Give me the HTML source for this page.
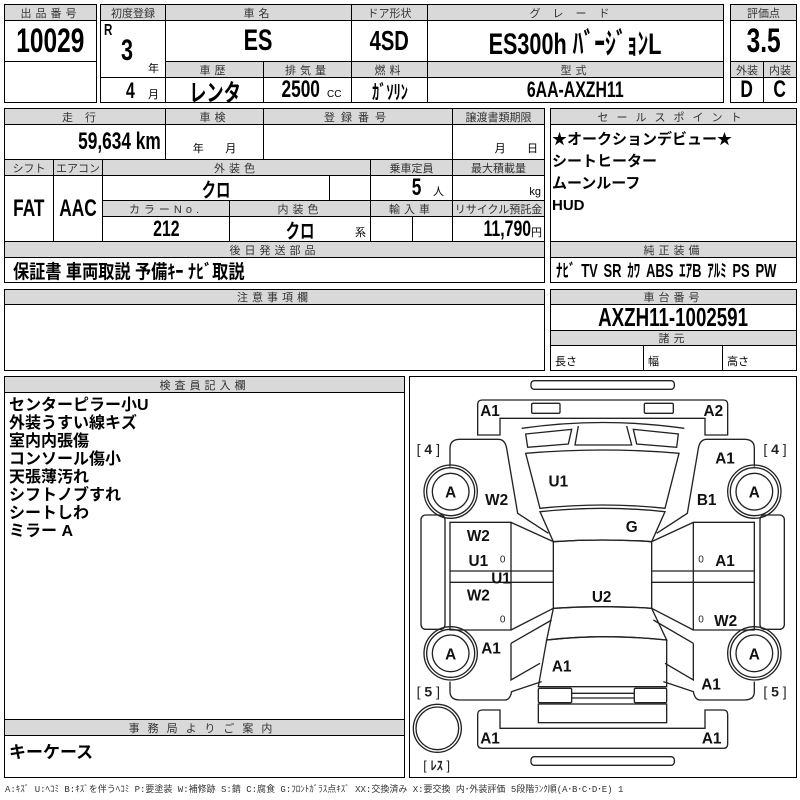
<!DOCTYPE html>
<html><head><meta charset="utf-8">
<style>
body{margin:0;width:800px;height:800px;background:#fff;position:relative;overflow:hidden;font-family:"Liberation Sans","Noto Sans CJK JP",sans-serif;color:#000}
.c{position:absolute;box-sizing:border-box;border:1px solid #000;display:flex;align-items:center;justify-content:center;white-space:nowrap}
.h{background:#d9d9d9;font-size:11px;color:#333;letter-spacing:4px}
.n{display:inline-block;font-weight:bold;transform:scaleX(.72);white-space:nowrap}
.r{transform-origin:right center}
.l{transform-origin:left center}
.a{position:absolute;white-space:nowrap}
</style></head><body>
<div class="c h" style="left:4px;top:4px;width:93px;height:17px">出品番号</div>
<div class="c" style="left:4px;top:20px;width:93px;height:42px"><span class="n" style="font-size:34px">10029</span></div>
<div class="c" style="left:4px;top:61px;width:93px;height:42px"></div>
<div class="c h" style="left:100px;top:4px;width:66px;height:17px;letter-spacing:0">初度登録</div>
<div class="c h" style="left:165px;top:4px;width:187px;height:17px">車名</div>
<div class="c h" style="left:351px;top:4px;width:77px;height:17px;letter-spacing:0">ドア形状</div>
<div class="c h" style="left:427px;top:4px;width:297px;height:17px;letter-spacing:12px">グレード</div>
<div class="c" style="left:100px;top:20px;width:66px;height:58px"></div>
<div class="a" style="left:104px;top:22px;font-size:16px"><span class="n l">R</span></div>
<div class="a" style="left:121px;top:34px;font-size:30px"><span class="n l">3</span></div>
<div class="a" style="left:148px;top:60px;font-size:11px">年</div>
<div class="c" style="left:100px;top:77px;width:66px;height:26px"></div>
<div class="a" style="left:126px;top:78px;font-size:22px"><span class="n l">4</span></div>
<div class="a" style="left:148px;top:86px;font-size:11px">月</div>
<div class="c" style="left:165px;top:20px;width:187px;height:42px"><span class="n" style="font-size:30px">ES</span></div>
<div class="c" style="left:351px;top:20px;width:77px;height:42px"><span class="n" style="font-size:28px">4SD</span></div>
<div class="c" style="left:427px;top:20px;width:297px;height:42px"><span class="n" style="font-size:30px">ES300h ﾊﾞｰｼﾞｮﾝL</span></div>
<div class="c h" style="left:165px;top:61px;width:99px;height:17px">車歴</div>
<div class="c h" style="left:263px;top:61px;width:89px;height:17px">排気量</div>
<div class="c h" style="left:351px;top:61px;width:77px;height:17px">燃料</div>
<div class="c h" style="left:427px;top:61px;width:297px;height:17px">型式</div>
<div class="c" style="left:165px;top:77px;width:99px;height:26px"><span class="n" style="font-size:24px">レンタ</span></div>
<div class="c" style="left:263px;top:77px;width:89px;height:26px"><span class="n" style="font-size:24px">2500</span><span style="font-size:10px;margin:8px 0 0 0">CC</span></div>
<div class="c" style="left:351px;top:77px;width:77px;height:26px"><span class="n" style="font-size:20px">ｶﾞｿﾘﾝ</span></div>
<div class="c" style="left:427px;top:77px;width:297px;height:26px"><span class="n" style="font-size:22px">6AA-AXZH11</span></div>
<div class="c h" style="left:730px;top:4px;width:67px;height:17px;letter-spacing:0">評価点</div>
<div class="c" style="left:730px;top:20px;width:67px;height:42px"><span class="n" style="font-size:34px">3.5</span></div>
<div class="c h" style="left:730px;top:61px;width:34px;height:17px;letter-spacing:0">外装</div>
<div class="c h" style="left:763px;top:61px;width:34px;height:17px;letter-spacing:0">内装</div>
<div class="c" style="left:730px;top:77px;width:34px;height:26px"><span class="n" style="font-size:24px">D</span></div>
<div class="c" style="left:763px;top:77px;width:34px;height:26px"><span class="n" style="font-size:24px">C</span></div>
<div class="c h" style="left:4px;top:108px;width:162px;height:17px;letter-spacing:12px">走行</div>
<div class="c h" style="left:165px;top:108px;width:99px;height:17px">車検</div>
<div class="c h" style="left:263px;top:108px;width:190px;height:17px;letter-spacing:6px">登録番号</div>
<div class="c h" style="left:452px;top:108px;width:93px;height:17px;letter-spacing:0">譲渡書類期限</div>
<div class="c" style="left:4px;top:124px;width:162px;height:36px;justify-content:flex-end;padding-right:4px"><span class="n r" style="font-size:24px">59,634 km</span></div>
<div class="c" style="left:165px;top:124px;width:99px;height:36px;font-size:11px;align-items:flex-end;padding-bottom:3px">年&nbsp;&nbsp;&nbsp;&nbsp;&nbsp;&nbsp;&nbsp;月</div>
<div class="c" style="left:263px;top:124px;width:190px;height:36px"></div>
<div class="c" style="left:452px;top:124px;width:93px;height:36px;font-size:11px;align-items:flex-end;justify-content:flex-end;padding:0 6px 3px 0">月&nbsp;&nbsp;&nbsp;&nbsp;&nbsp;&nbsp;&nbsp;日</div>
<div class="c h" style="left:4px;top:159px;width:50px;height:17px;letter-spacing:0">シフト</div>
<div class="c h" style="left:53px;top:159px;width:50px;height:17px;letter-spacing:0">エアコン</div>
<div class="c h" style="left:102px;top:159px;width:269px;height:17px">外装色</div>
<div class="c h" style="left:370px;top:159px;width:83px;height:17px;letter-spacing:0">乗車定員</div>
<div class="c h" style="left:452px;top:159px;width:93px;height:17px;letter-spacing:0">最大積載量</div>
<div class="c" style="left:4px;top:175px;width:50px;height:67px"><span class="n" style="font-size:24px">FAT</span></div>
<div class="c" style="left:53px;top:175px;width:50px;height:67px"><span class="n" style="font-size:24px">AAC</span></div>
<div class="c" style="left:102px;top:175px;width:228px;height:26px"><span class="n" style="font-size:20px">クロ</span></div>
<div class="c" style="left:329px;top:175px;width:42px;height:26px"></div>
<div class="c" style="left:370px;top:175px;width:83px;height:26px;justify-content:flex-end;padding-right:8px"><span class="n r" style="font-size:24px">5</span><span style="font-size:11px;margin:6px 0 0 12px">人</span></div>
<div class="c" style="left:452px;top:175px;width:93px;height:26px;font-size:11px;justify-content:flex-end;align-items:flex-end;padding:0 3px 2px 0">kg</div>
<div class="c h" style="left:102px;top:200px;width:128px;height:17px">カラーNo.</div>
<div class="c h" style="left:229px;top:200px;width:142px;height:17px">内装色</div>
<div class="c h" style="left:370px;top:200px;width:83px;height:17px">輸入車</div>
<div class="c h" style="left:452px;top:200px;width:93px;height:17px;letter-spacing:0">リサイクル預託金</div>
<div class="c" style="left:102px;top:216px;width:128px;height:26px"><span class="n" style="font-size:22px">212</span></div>
<div class="c" style="left:229px;top:216px;width:142px;height:26px"><span class="n" style="font-size:20px">クロ</span><span class="a" style="right:4px;bottom:1px;font-size:11px">系</span></div>
<div class="c" style="left:370px;top:216px;width:43px;height:26px"></div>
<div class="c" style="left:412px;top:216px;width:41px;height:26px"></div>
<div class="c" style="left:452px;top:216px;width:93px;height:26px;justify-content:flex-end;padding-right:2px"><span class="n r" style="font-size:22px">11,790</span><span style="font-size:11px;margin-top:6px">円</span></div>
<div class="c h" style="left:4px;top:241px;width:541px;height:17px">後日発送部品</div>
<div class="c" style="left:4px;top:257px;width:541px;height:26px;justify-content:flex-start;padding-left:8px"><span class="n l" style="font-size:19px;transform:scaleX(.85)">保証書 車両取説 予備ｷｰ ﾅﾋﾞ取説</span></div>
<div class="c h" style="left:550px;top:108px;width:247px;height:17px;letter-spacing:8px">セールスポイント</div>
<div class="c" style="left:550px;top:124px;width:247px;height:118px"></div>
<div class="a" style="left:552px;top:129px;font-size:15px;font-weight:bold;line-height:22px">★オークションデビュー★<br>シートヒーター<br>ムーンルーフ<br>HUD</div>
<div class="c h" style="left:550px;top:241px;width:247px;height:17px">純正装備</div>
<div class="c" style="left:550px;top:257px;width:247px;height:26px;justify-content:flex-start;padding-left:5px;overflow:hidden"><span class="n l" style="font-size:18px;word-spacing:3px">ﾅﾋﾞ TV SR ｶﾜ ABS ｴｱB ｱﾙﾐ PS PW</span></div>
<div class="c h" style="left:4px;top:289px;width:541px;height:16px">注意事項欄</div>
<div class="c" style="left:4px;top:304px;width:541px;height:67px"></div>
<div class="c h" style="left:550px;top:289px;width:247px;height:16px">車台番号</div>
<div class="c" style="left:550px;top:304px;width:247px;height:27px"><span class="n" style="font-size:26px">AXZH11-1002591</span></div>
<div class="c h" style="left:550px;top:330px;width:247px;height:16px">諸元</div>
<div class="c" style="left:550px;top:345px;width:94px;height:26px;font-size:11px;justify-content:flex-start;padding:6px 0 0 4px">長さ</div>
<div class="c" style="left:643px;top:345px;width:80px;height:26px;font-size:11px;justify-content:flex-start;padding:6px 0 0 4px">幅</div>
<div class="c" style="left:722px;top:345px;width:75px;height:26px;font-size:11px;justify-content:flex-start;padding:6px 0 0 4px">高さ</div>
<div class="c h" style="left:4px;top:376px;width:401px;height:17px">検査員記入欄</div>
<div class="c" style="left:4px;top:392px;width:401px;height:328px"></div>
<div class="a" style="left:9px;top:397px;font-size:16px;font-weight:bold;line-height:18px">センターピラー小U<br>外装うすい線キズ<br>室内内張傷<br>コンソール傷小<br>天張薄汚れ<br>シフトノブすれ<br>シートしわ<br>ミラー A</div>
<div class="c h" style="left:4px;top:719px;width:401px;height:17px;letter-spacing:8px">事務局よりご案内</div>
<div class="c" style="left:4px;top:735px;width:401px;height:43px"></div>
<div class="a" style="left:9px;top:738px;font-size:17px;font-weight:bold">キーケース</div>
<div class="c" style="left:409px;top:376px;width:388px;height:402px"></div>
<svg class="a" style="left:405px;top:370px" width="395" height="430" viewBox="0 0 1185 1290">
<g fill="none" stroke="#222" stroke-width="4">
<rect x="378" y="32" width="430" height="26" rx="10"/>
<path d="M232,90 H955 Q968,90 968,103 V195 H900 V145 H285 V195 H218 V103 Q218,90 232,90 Z"/>
<rect x="380" y="100" width="85" height="30" rx="4"/>
<rect x="718" y="100" width="87" height="30" rx="4"/>
<path d="M350,175 Q594,140 838,175"/>
<path d="M362,192 L500,178 L490,222 L368,232 Z"/>
<path d="M685,178 L820,192 L815,232 L695,222 Z"/>
<path d="M520,168 L510,225 L680,225 L665,168"/>
<path d="M362,250 Q594,230 822,250 L780,415 Q594,395 405,415 Z"/>
<path d="M405,425 Q594,405 780,425 L740,515 Q594,505 445,515 Z"/>
<path d="M445,515 Q594,505 740,515 L740,715 Q594,705 445,715 Z"/>
<path d="M445,715 Q594,705 740,715 L785,810 Q594,790 425,810 Z"/>
<path d="M425,810 Q594,790 785,810 L785,950 L400,950 Z"/>
<rect x="400" y="955" width="100" height="43" rx="4"/>
<rect x="688" y="955" width="97" height="43" rx="4"/>
<path d="M500,970 H688 M500,984 H688"/>
<rect x="400" y="1002" width="385" height="56"/>
<path d="M232,1020 H285 V1075 H900 V1020 H955 Q968,1020 968,1033 V1122 Q968,1135 955,1135 H232 Q218,1135 218,1122 V1033 Q218,1020 232,1020 Z"/>
<rect x="378" y="1160" width="430" height="26" rx="10"/>
<path d="M135,290 V235 Q135,208 165,208 H280 Q300,208 305,235 L338,430 L430,490"/>
<path d="M1048,290 V235 Q1048,208 1018,208 H905 Q885,208 880,235 L847,430 L755,490"/>
<rect x="48" y="435" width="72" height="343" rx="14"/>
<rect x="1065" y="435" width="73" height="343" rx="14"/>
<path d="M135,457 H318 V780 H135 Z M135,603 H445 M135,637 H445 M318,457 L445,515 M318,780 L445,715"/>
<path d="M1048,457 H865 V780 H1048 Z M1048,603 H740 M1048,637 H740 M865,457 L740,515 M865,780 L740,715"/>
<path d="M135,935 V965 Q135,990 165,990 H300 Q315,990 320,965 L410,935"/>
<path d="M318,820 L440,750 M318,820 V930 L405,880"/>
<path d="M1048,935 V965 Q1048,990 1018,990 H885 Q870,990 865,965 L775,935"/>
<path d="M865,820 L745,750 M865,820 V930 L780,880"/>
<circle cx="137" cy="365" r="80"/><circle cx="137" cy="365" r="72"/><circle cx="137" cy="365" r="55"/>
<circle cx="1048" cy="365" r="80"/><circle cx="1048" cy="365" r="72"/><circle cx="1048" cy="365" r="55"/>
<circle cx="137" cy="850" r="80"/><circle cx="137" cy="850" r="72"/><circle cx="137" cy="850" r="55"/>
<circle cx="1048" cy="850" r="80"/><circle cx="1048" cy="850" r="72"/><circle cx="1048" cy="850" r="55"/>
<circle cx="97" cy="1075" r="72"/><circle cx="97" cy="1075" r="64"/>
</g>
<g font-family="Liberation Sans, sans-serif" font-weight="bold" font-size="46" text-anchor="middle" fill="#111">
<text x="255" y="138">A1</text><text x="925" y="138">A2</text>
<text x="960" y="280">A1</text><text x="460" y="350">U1</text>
<text x="275" y="405">W2</text><text x="905" y="405">B1</text>
<text x="137" y="383">A</text><text x="1048" y="383">A</text>
<text x="137" y="868">A</text><text x="1048" y="868">A</text>
<text x="220" y="513">W2</text><text x="680" y="486">G</text>
<text x="220" y="588">U1</text><text x="960" y="588">A1</text>
<text x="288" y="641">U1</text><text x="220" y="691">W2</text>
<text x="590" y="696">U2</text><text x="962" y="768">W2</text>
<text x="258" y="851">A1</text><text x="470" y="904">A1</text>
<text x="918" y="959">A1</text><text x="255" y="1121">A1</text><text x="920" y="1121">A1</text>
</g>
<g font-family="Liberation Sans, sans-serif" font-size="30" text-anchor="middle" fill="#222">
<text x="293" y="578">0</text><text x="888" y="578">0</text>
<text x="293" y="758">0</text><text x="888" y="758">0</text>
</g>
<g font-family="Liberation Sans, 'Noto Sans CJK JP', sans-serif" font-size="42" fill="#222" text-anchor="middle">
<text x="70" y="252">[ <tspan font-weight="bold">4</tspan> ]</text><text x="1110" y="252">[ <tspan font-weight="bold">4</tspan> ]</text>
<text x="70" y="980">[ <tspan font-weight="bold">5</tspan> ]</text><text x="1110" y="980">[ <tspan font-weight="bold">5</tspan> ]</text>
<text x="95" y="1200" font-size="38">[ <tspan font-weight="bold">ﾚｽ</tspan> ]</text>
</g>
</svg>
<div class="a" style="left:5px;top:782px;font-size:9px;color:#333;font-family:'Liberation Mono','Noto Sans CJK JP',monospace">A:ｷｽﾞ U:ﾍｺﾐ B:ｷｽﾞを伴うﾍｺﾐ P:要塗装 W:補修跡 S:錆 C:腐食 G:ﾌﾛﾝﾄｶﾞﾗｽ点ｷｽﾞ XX:交換済み X:要交換 内･外装評価 5段階ﾗﾝｸ順(A･B･C･D･E) 1</div>
</body></html>
